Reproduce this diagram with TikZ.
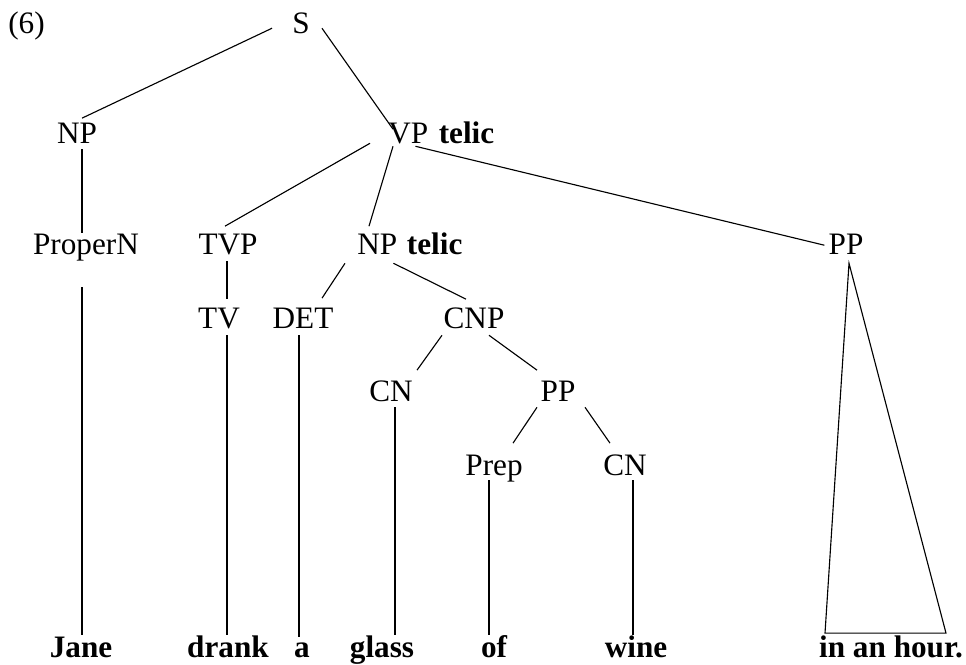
\documentclass[tikz,border=0pt]{standalone}
\usepackage{fontspec}
\setmainfont{Liberation Serif}
\usetikzlibrary{positioning,calc}

\begin{document}
\begin{tikzpicture}[x=0.025cm,y=-0.025cm,
	cat/.style={inner sep=0pt,anchor=base,text height=0.68em,text depth=0pt,font=\fontsize{22.2}{26}\selectfont},
	word/.style={cat,font=\fontsize{22.2}{26}\selectfont\bfseries},
	branch/.style={line width=0.8pt}]
				\useasboundingbox (0,0) rectangle (966,664);
				\node[cat,anchor=base west] (ex) at (8,33) {(6)};
				% categories
				\node[cat] (s) at (301,33) {S};
				\node[cat] (np) at (77,143) {NP};
				\node[cat,anchor=base west] (vp) at (388,143) {VP};
				\node[word,anchor=base west,base right=2.5mm of vp] (vptelic) {telic};
				\node[cat] (propn) at (86,254) {ProperN};
				\node[cat] (tvp) at (228,254) {TVP};
				\node[cat,anchor=base west] (npt) at (357,254) {NP};
				\node[word,anchor=base west,base right=2.3mm of npt] (nptelic) {telic};
				\node[cat] (ppa) at (846,254) {PP};
				\node[cat] (tv) at (219,328) {TV};
				\node[cat] (det) at (303,328) {DET};
				\node[cat] (cnp) at (474,328) {CNP};
				\node[cat] (cna) at (391,401) {CN};
				\node[cat] (ppb) at (558,401) {PP};
				\node[cat] (prep) at (494,475) {Prep};
				\node[cat] (cnb) at (625,475) {CN};
				% words
				\node[word] (jane) at (81,657) {Jane};
				\node[word] (drank) at (228,657) {drank};
				\node[word] (a) at (302,657) {a};
				\node[word] (glass) at (382,657) {glass};
				\node[word] (of) at (494,657) {of};
				\node[word] (wine) at (636,657) {wine};
				\node[word] (hour) at (891,657) {in an hour.};
				% branches
				\draw[branch] ($(s.west)+(-20,0)$) -- ($(np.north)+(5,-15)$);
				\draw[branch] ($(s.east)+(12,0)$) -- ($(vp.north west)+(5,-4)$);
				\draw[branch] ($(np.south)+(5,6)$) -- ($(propn.north)+(-4,-11)$);
				\draw[branch] ($(vp.south west)+(-18,0)$) -- ($(tvp.north)+(-3,-18)$);
				\draw[branch] ($(vp.south west)+(5,3)$) -- ($(npt.north west)+(12,-18)$);
				\draw[branch] ($(vp.south east)+(-13,3)$) -- ($(ppa.west)+(-4,-4)$);
				\draw[branch] ($(propn.south)+(-4,33)$) -- ($(jane.north)+(1,-12)$);
				\draw[branch] ($(tvp.south)+(-1,7)$) -- ($(tv.north)+(8,-19)$);
				\draw[branch] ($(tv.south)+(8,7)$) -- ($(drank.north)+(-1,-12)$);
				\draw[branch] ($(npt.south west)+(-12,9)$) -- ($(det.north)+(19,-20)$);
				\draw[branch] ($(npt.south east)+(-4,9)$) -- ($(cnp.north)+(-8,-19)$);
				\draw[branch] ($(det.south)+(-4,7)$) -- ($(a.north)+(-3,-10)$);
				\draw[branch] ($(cnp.south)+(-32,7)$) -- ($(cna.north)+(26,-21)$);
				\draw[branch] ($(cnp.south)+(15,7)$) -- ($(ppb.north)+(-21,-21)$);
				\draw[branch] ($(cna.south)+(4,6)$) -- ($(glass.north)+(13,-12)$);
				\draw[branch] ($(ppb.south)+(-21,6)$) -- ($(prep.north)+(19,-22)$);
				\draw[branch] ($(ppb.south)+(27,6)$) -- ($(cnb.north)+(-15,-22)$);
				\draw[branch] ($(prep.south)+(-5,5)$) -- ($(of.north)+(-5,-12)$);
				\draw[branch] ($(cnb.south)+(8,5)$) -- ($(wine.north)+(-3,-12)$);
				\draw[branch] ($(ppa.south)+(3,9)$) -- ($(hour.north)+(-66,-14)$) -- ($(hour.north)+(55,-14)$) -- cycle;
\end{tikzpicture}
\end{document}
